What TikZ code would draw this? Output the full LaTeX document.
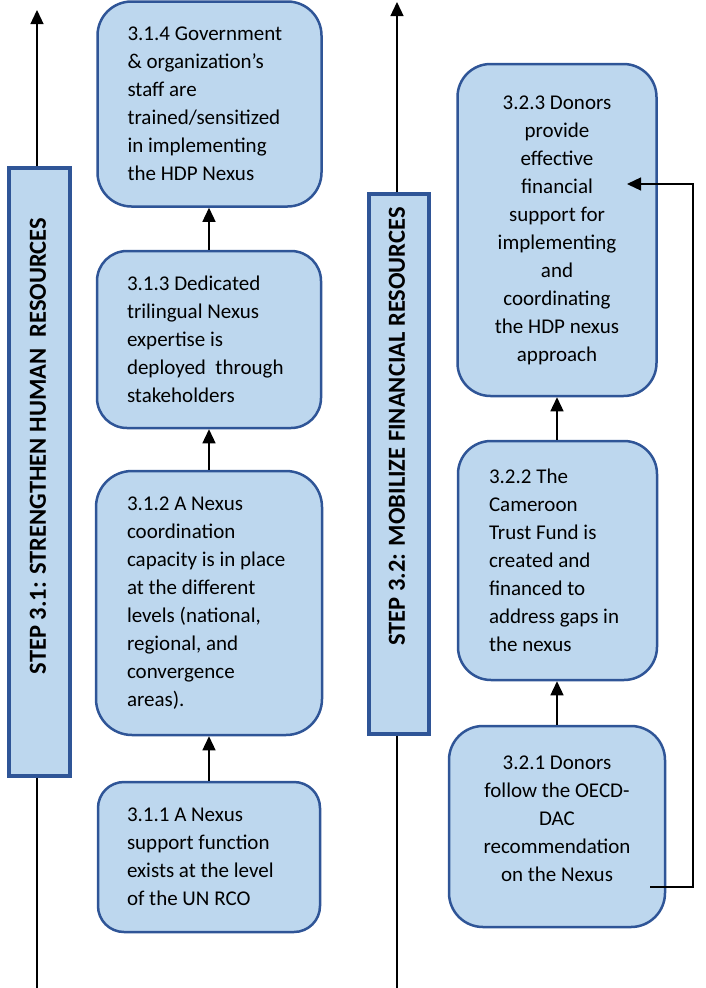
\documentclass[tikz,border=0pt]{standalone}
\usepackage{fontspec}
\setmainfont{Carlito}
\usetikzlibrary{arrows.meta}
\definecolor{boxfill}{HTML}{BDD7EE}
\definecolor{boxline}{HTML}{2F5597}
\begin{document}
\begin{tikzpicture}[x=1pt,y=-1pt,
  card/.style={draw=boxline, line width=2.5pt, fill=boxfill, inner sep=0pt,
    font=\fontsize{21}{28}\selectfont},
  stepbox/.style={draw=boxline, line width=3.5pt, fill=boxfill, inner sep=0pt},
  steptext/.style={rotate=90, inner sep=0pt, font=\fontsize{24.5}{28}\selectfont\bfseries},
  plainline/.style={line width=1.3pt},
  link/.style={line width=1.3pt, -{Triangle[length=14pt,width=13pt]}}]
\useasboundingbox (0,0) rectangle (706,988);

% ---- Step 3.1 ----
\node[stepbox, minimum width=61pt, minimum height=608pt] (s31) at (39.5,472) {};
\node[steptext] (s31t) at (38,446) {STEP 3.1: STRENGTHEN HUMAN\ \ RESOURCES};
\coordinate (s31top) at (37,10);
\coordinate (s31bot) at (37,990);
\draw[link] (s31.north -| s31top) -- (s31top);
\draw[plainline] (s31.south -| s31bot) -- (s31bot);

\node[card, rounded corners=34pt, minimum width=224pt, minimum height=205pt,
  text width=164pt, align=flush left] (b314) at (209.5,104)
  {3.1.4 Government\\ \& organization’s\\ staff are\\ trained/sensitized\\ in implementing\\ the HDP Nexus};
\node[card, rounded corners=30pt, minimum width=224pt, minimum height=177pt,
  text width=164pt, align=flush left] (b313) at (209,339.5)
  {3.1.3 Dedicated\\ trilingual Nexus\\ expertise is\\ \mbox{deployed\ \ through}\\ stakeholders};
\node[card, rounded corners=36pt, minimum width=226pt, minimum height=264pt,
  text width=164pt, align=flush left] (b312) at (209,603)
  {3.1.2 A Nexus\\ coordination\\ \mbox{capacity is in place}\\ at the different\\ levels (national,\\ regional, and\\ convergence\\ areas).};
\node[card, rounded corners=26pt, minimum width=222pt, minimum height=150pt,
  text width=164pt, align=flush left] (b311) at (209,857)
  {3.1.1 A Nexus\\ support function\\ \mbox{exists at the level}\\ of the UN RCO};

\draw[link] (b311.north) -- (b311.north |- b312.south);
\draw[link] (b312.north) -- (b312.north |- b313.south);
\draw[link] (b313.north) -- (b313.north |- b314.south);

% ---- Step 3.2 ----
\node[stepbox, minimum width=60pt, minimum height=540pt] (s32) at (399,464) {};
\node[steptext] (s32t) at (397,426.5) {STEP 3.2: MOBILIZE FINANCIAL RESOURCES};
\coordinate (s32top) at (397,2);
\coordinate (s32bot) at (397,990);
\draw[link] (s32.north -| s32top) -- (s32top);
\draw[plainline] (s32.south -| s32bot) -- (s32bot);

\node[card, rounded corners=33pt, minimum width=199pt, minimum height=332pt,
  align=center] (b323) at (557,230)
  {3.2.3 Donors\\ provide\\ effective\\ financial\\ support for\\ implementing\\ and\\ coordinating\\ the HDP nexus\\ approach};
\node[card, rounded corners=33pt, minimum width=199pt, minimum height=239pt,
  text width=137pt, align=flush left] (b322) at (557.5,560.5)
  {3.2.2 The\\ Cameroon\\ Trust Fund is\\ created and\\ financed to\\ \mbox{address gaps in}\\ the nexus};
\node[card, rounded corners=34pt, minimum width=216pt, minimum height=201pt,
  align=center] (b321) at (557,826.5)
  {3.2.1 Donors\\ follow the OECD-\\ DAC\\ recommendation\\ on the Nexus\rule[-16pt]{0pt}{16pt}};

\draw[link] (b321.north) -- (b321.north |- b322.south);
\draw[link] (b322.north -| b323.south) -- (b323.south);

\coordinate (fbstart) at (650,887);
\coordinate (fbend) at (627,184);
\draw[link] (fbstart) -- ++(43,0) |- (fbend);
\end{tikzpicture}
\end{document}
